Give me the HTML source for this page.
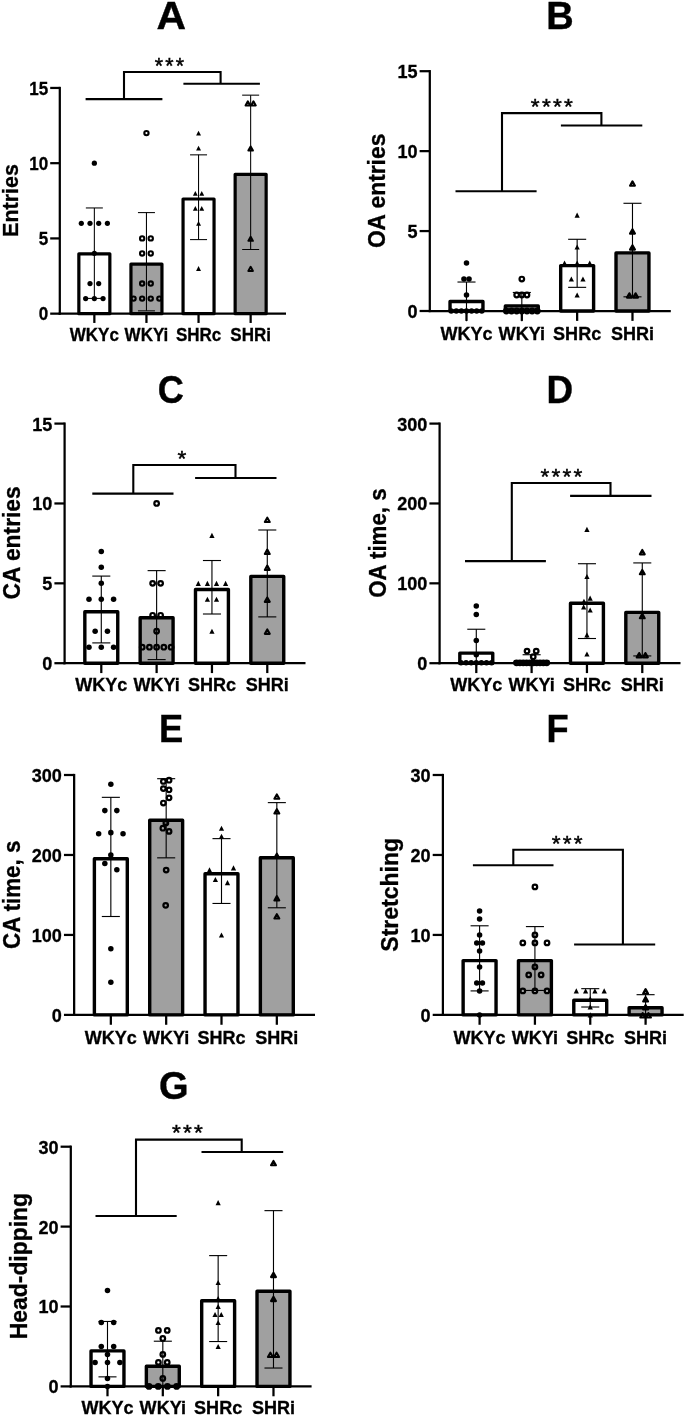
<!DOCTYPE html>
<html lang="en"><head><meta charset="utf-8"><title>Figure</title>
<style>html,body{margin:0;padding:0;background:#fff}svg{display:block}text{font-family:'Liberation Sans', Arial, sans-serif;fill:#000}</style>
</head><body>
<svg width="685" height="1418" viewBox="0 0 685 1418">
<rect width="685" height="1418" fill="#fff"/>
<g>
<text transform="translate(156.6 28.5) scale(1.075 1.04)" font-size="38" font-weight="bold" text-anchor="start" stroke="#000" stroke-width="0.4">A</text>
<rect x="78.85" y="253.8" width="31" height="59.85" fill="#fff" stroke="#000" stroke-width="3.2" stroke-linejoin="round"/>
<rect x="130.95" y="264.1" width="31" height="49.55" fill="#a0a0a0" stroke="#000" stroke-width="3.2" stroke-linejoin="round"/>
<rect x="183.05" y="199" width="31" height="114.65" fill="#fff" stroke="#000" stroke-width="3.2" stroke-linejoin="round"/>
<rect x="235.15" y="174.3" width="31" height="139.35" fill="#a0a0a0" stroke="#000" stroke-width="3.2" stroke-linejoin="round"/>
<line x1="59.8" y1="86.82" x2="59.8" y2="314.77" stroke="#000" stroke-width="2.25" stroke-linecap="butt"/>
<line x1="58.67" y1="313.65" x2="286" y2="313.65" stroke="#000" stroke-width="2.25" stroke-linecap="butt"/>
<line x1="50.2" y1="313.65" x2="59.8" y2="313.65" stroke="#000" stroke-width="2.25" stroke-linecap="butt"/>
<text transform="translate(48.2 320.24) scale(1 1.04)" font-size="17" font-weight="bold" text-anchor="end" stroke="#000" stroke-width="0.3">0</text>
<line x1="50.2" y1="238.42" x2="59.8" y2="238.42" stroke="#000" stroke-width="2.25" stroke-linecap="butt"/>
<text transform="translate(48.2 245) scale(1 1.04)" font-size="17" font-weight="bold" text-anchor="end" stroke="#000" stroke-width="0.3">5</text>
<line x1="50.2" y1="163.18" x2="59.8" y2="163.18" stroke="#000" stroke-width="2.25" stroke-linecap="butt"/>
<text transform="translate(48.2 169.77) scale(1 1.04)" font-size="17" font-weight="bold" text-anchor="end" stroke="#000" stroke-width="0.3">10</text>
<line x1="50.2" y1="87.95" x2="59.8" y2="87.95" stroke="#000" stroke-width="2.25" stroke-linecap="butt"/>
<text transform="translate(48.2 94.54) scale(1 1.04)" font-size="17" font-weight="bold" text-anchor="end" stroke="#000" stroke-width="0.3">15</text>
<line x1="94.35" y1="313.65" x2="94.35" y2="322.95" stroke="#000" stroke-width="2.25" stroke-linecap="butt"/>
<text transform="translate(94.35 340.9) scale(1 1.04)" font-size="17" font-weight="bold" text-anchor="middle" stroke="#000" stroke-width="0.3">WKYc</text>
<line x1="146.45" y1="313.65" x2="146.45" y2="322.95" stroke="#000" stroke-width="2.25" stroke-linecap="butt"/>
<text transform="translate(146.45 340.9) scale(1 1.04)" font-size="17" font-weight="bold" text-anchor="middle" stroke="#000" stroke-width="0.3">WKYi</text>
<line x1="198.55" y1="313.65" x2="198.55" y2="322.95" stroke="#000" stroke-width="2.25" stroke-linecap="butt"/>
<text transform="translate(198.55 340.9) scale(1 1.04)" font-size="17" font-weight="bold" text-anchor="middle" stroke="#000" stroke-width="0.3">SHRc</text>
<line x1="250.65" y1="313.65" x2="250.65" y2="322.95" stroke="#000" stroke-width="2.25" stroke-linecap="butt"/>
<text transform="translate(250.65 340.9) scale(1 1.04)" font-size="17" font-weight="bold" text-anchor="middle" stroke="#000" stroke-width="0.3">SHRi</text>
<text transform="translate(18 200.5) rotate(-90) scale(1 1.04)" font-size="21.5" font-weight="bold" text-anchor="middle" stroke="#000" stroke-width="0.3">Entries</text>
<circle cx="94.35" cy="163.18" r="2.6" fill="#000"/>
<circle cx="81.3" cy="223.37" r="2.6" fill="#000"/>
<circle cx="90" cy="223.37" r="2.6" fill="#000"/>
<circle cx="98.7" cy="223.37" r="2.6" fill="#000"/>
<circle cx="107.4" cy="223.37" r="2.6" fill="#000"/>
<circle cx="94.35" cy="253.46" r="2.6" fill="#000"/>
<circle cx="90" cy="283.56" r="2.6" fill="#000"/>
<circle cx="98.7" cy="283.56" r="2.6" fill="#000"/>
<circle cx="85.65" cy="298.6" r="2.6" fill="#000"/>
<circle cx="94.35" cy="298.6" r="2.6" fill="#000"/>
<circle cx="103.05" cy="298.6" r="2.6" fill="#000"/>
<circle cx="146.45" cy="133.09" r="2.15" fill="none" stroke="#000" stroke-width="2.1"/>
<circle cx="142.15" cy="238.42" r="2.15" fill="none" stroke="#000" stroke-width="2.1"/>
<circle cx="150.75" cy="238.42" r="2.15" fill="none" stroke="#000" stroke-width="2.1"/>
<circle cx="142.15" cy="253.46" r="2.15" fill="none" stroke="#000" stroke-width="2.1"/>
<circle cx="150.75" cy="253.46" r="2.15" fill="none" stroke="#000" stroke-width="2.1"/>
<circle cx="142.15" cy="283.56" r="2.15" fill="none" stroke="#000" stroke-width="2.1"/>
<circle cx="150.75" cy="283.56" r="2.15" fill="none" stroke="#000" stroke-width="2.1"/>
<circle cx="133.55" cy="298.6" r="2.15" fill="none" stroke="#000" stroke-width="2.1"/>
<circle cx="142.15" cy="298.6" r="2.15" fill="none" stroke="#000" stroke-width="2.1"/>
<circle cx="150.75" cy="298.6" r="2.15" fill="none" stroke="#000" stroke-width="2.1"/>
<circle cx="159.35" cy="298.6" r="2.15" fill="none" stroke="#000" stroke-width="2.1"/>
<path d="M198.55 130.69L201 135.49L196.1 135.49Z" fill="#000"/>
<path d="M198.55 145.74L201 150.54L196.1 150.54Z" fill="#000"/>
<path d="M195.35 190.88L197.8 195.68L192.9 195.68Z" fill="#000"/>
<path d="M201.75 190.88L204.2 195.68L199.3 195.68Z" fill="#000"/>
<path d="M195.35 205.92L197.8 210.72L192.9 210.72Z" fill="#000"/>
<path d="M201.75 205.92L204.2 210.72L199.3 210.72Z" fill="#000"/>
<path d="M198.55 220.97L201 225.77L196.1 225.77Z" fill="#000"/>
<path d="M198.55 266.11L201 270.91L196.1 270.91Z" fill="#000"/>
<path d="M247.85 101.35L250.15 105.45L245.55 105.45Z" fill="none" stroke="#000" stroke-width="2" stroke-linejoin="round"/>
<path d="M253.45 101.35L255.75 105.45L251.15 105.45Z" fill="none" stroke="#000" stroke-width="2" stroke-linejoin="round"/>
<path d="M250.65 146.49L252.95 150.59L248.35 150.59Z" fill="none" stroke="#000" stroke-width="2" stroke-linejoin="round"/>
<path d="M250.65 236.77L252.95 240.87L248.35 240.87Z" fill="none" stroke="#000" stroke-width="2" stroke-linejoin="round"/>
<path d="M250.65 266.86L252.95 270.96L248.35 270.96Z" fill="none" stroke="#000" stroke-width="2" stroke-linejoin="round"/>
<line x1="94.35" y1="207.95" x2="94.35" y2="298.4" stroke="#000" stroke-width="1.05" stroke-linecap="butt"/>
<line x1="85.85" y1="207.95" x2="102.85" y2="207.95" stroke="#000" stroke-width="1.05" stroke-linecap="butt"/>
<line x1="85.85" y1="298.4" x2="102.85" y2="298.4" stroke="#000" stroke-width="1.05" stroke-linecap="butt"/>
<line x1="146.45" y1="212.6" x2="146.45" y2="310.85" stroke="#000" stroke-width="1.05" stroke-linecap="butt"/>
<line x1="137.95" y1="212.6" x2="154.95" y2="212.6" stroke="#000" stroke-width="1.05" stroke-linecap="butt"/>
<line x1="137.95" y1="310.85" x2="154.95" y2="310.85" stroke="#000" stroke-width="1.05" stroke-linecap="butt"/>
<line x1="198.55" y1="154.85" x2="198.55" y2="239.6" stroke="#000" stroke-width="1.05" stroke-linecap="butt"/>
<line x1="190.05" y1="154.85" x2="207.05" y2="154.85" stroke="#000" stroke-width="1.05" stroke-linecap="butt"/>
<line x1="190.05" y1="239.6" x2="207.05" y2="239.6" stroke="#000" stroke-width="1.05" stroke-linecap="butt"/>
<line x1="250.65" y1="95.15" x2="250.65" y2="249.5" stroke="#000" stroke-width="1.05" stroke-linecap="butt"/>
<line x1="242.15" y1="95.15" x2="259.15" y2="95.15" stroke="#000" stroke-width="1.05" stroke-linecap="butt"/>
<line x1="242.15" y1="249.5" x2="259.15" y2="249.5" stroke="#000" stroke-width="1.05" stroke-linecap="butt"/>
<line x1="85.6" y1="99.1" x2="162.4" y2="99.1" stroke="#000" stroke-width="2.1" stroke-linecap="butt"/>
<line x1="183.4" y1="83.8" x2="259.9" y2="83.8" stroke="#000" stroke-width="2.1" stroke-linecap="butt"/>
<path d="M124 99.1V72H220.6V83.8" fill="none" stroke="#000" stroke-width="2.1" stroke-linejoin="miter"/>
<text transform="translate(170.45 72.68)" font-size="21.3" font-weight="normal" text-anchor="middle" stroke="#000" stroke-width="0.45" letter-spacing="2.1">***</text>
</g>
<g>
<text transform="translate(546.3 28.6) scale(1 1.04)" font-size="38" font-weight="bold" text-anchor="start" stroke="#000" stroke-width="0.4">B</text>
<rect x="450.03" y="301.5" width="32.92" height="9.5" fill="#fff" stroke="#000" stroke-width="3.4" stroke-linejoin="round"/>
<rect x="505.36" y="305.9" width="32.92" height="5.1" fill="#a0a0a0" stroke="#000" stroke-width="3.4" stroke-linejoin="round"/>
<rect x="560.69" y="265.6" width="32.92" height="45.4" fill="#fff" stroke="#000" stroke-width="3.4" stroke-linejoin="round"/>
<rect x="616.02" y="252.9" width="32.92" height="58.1" fill="#a0a0a0" stroke="#000" stroke-width="3.4" stroke-linejoin="round"/>
<line x1="429.8" y1="70.07" x2="429.8" y2="312.12" stroke="#000" stroke-width="2.25" stroke-linecap="butt"/>
<line x1="428.68" y1="311" x2="670.8" y2="311" stroke="#000" stroke-width="2.25" stroke-linecap="butt"/>
<line x1="419.6" y1="311" x2="429.8" y2="311" stroke="#000" stroke-width="2.25" stroke-linecap="butt"/>
<text transform="translate(417.48 317.96) scale(1 1.04)" font-size="18.05" font-weight="bold" text-anchor="end" stroke="#000" stroke-width="0.3">0</text>
<line x1="419.6" y1="231.07" x2="429.8" y2="231.07" stroke="#000" stroke-width="2.25" stroke-linecap="butt"/>
<text transform="translate(417.48 238.03) scale(1 1.04)" font-size="18.05" font-weight="bold" text-anchor="end" stroke="#000" stroke-width="0.3">5</text>
<line x1="419.6" y1="151.13" x2="429.8" y2="151.13" stroke="#000" stroke-width="2.25" stroke-linecap="butt"/>
<text transform="translate(417.48 158.1) scale(1 1.04)" font-size="18.05" font-weight="bold" text-anchor="end" stroke="#000" stroke-width="0.3">10</text>
<line x1="419.6" y1="71.2" x2="429.8" y2="71.2" stroke="#000" stroke-width="2.25" stroke-linecap="butt"/>
<text transform="translate(417.48 78.16) scale(1 1.04)" font-size="18.05" font-weight="bold" text-anchor="end" stroke="#000" stroke-width="0.3">15</text>
<line x1="466.49" y1="311" x2="466.49" y2="320.88" stroke="#000" stroke-width="2.25" stroke-linecap="butt"/>
<text transform="translate(466.49 339.8) scale(1 1.04)" font-size="18.05" font-weight="bold" text-anchor="middle" stroke="#000" stroke-width="0.3">WKYc</text>
<line x1="521.82" y1="311" x2="521.82" y2="320.88" stroke="#000" stroke-width="2.25" stroke-linecap="butt"/>
<text transform="translate(521.82 339.8) scale(1 1.04)" font-size="18.05" font-weight="bold" text-anchor="middle" stroke="#000" stroke-width="0.3">WKYi</text>
<line x1="577.15" y1="311" x2="577.15" y2="320.88" stroke="#000" stroke-width="2.25" stroke-linecap="butt"/>
<text transform="translate(577.15 339.8) scale(1 1.04)" font-size="18.05" font-weight="bold" text-anchor="middle" stroke="#000" stroke-width="0.3">SHRc</text>
<line x1="632.48" y1="311" x2="632.48" y2="320.88" stroke="#000" stroke-width="2.25" stroke-linecap="butt"/>
<text transform="translate(632.48 339.8) scale(1 1.04)" font-size="18.05" font-weight="bold" text-anchor="middle" stroke="#000" stroke-width="0.3">SHRi</text>
<text transform="translate(385.2 190.9) rotate(-90) scale(1 1.04)" font-size="22.8" font-weight="bold" text-anchor="middle" stroke="#000" stroke-width="0.3">OA entries</text>
<circle cx="466.49" cy="263.04" r="2.76" fill="#000"/>
<circle cx="463.94" cy="279.03" r="2.76" fill="#000"/>
<circle cx="469.04" cy="279.03" r="2.76" fill="#000"/>
<circle cx="466.49" cy="295.01" r="2.76" fill="#000"/>
<circle cx="451.19" cy="311" r="2.76" fill="#000"/>
<circle cx="456.29" cy="311" r="2.76" fill="#000"/>
<circle cx="461.39" cy="311" r="2.76" fill="#000"/>
<circle cx="466.49" cy="311" r="2.76" fill="#000"/>
<circle cx="471.59" cy="311" r="2.76" fill="#000"/>
<circle cx="476.69" cy="311" r="2.76" fill="#000"/>
<circle cx="481.79" cy="311" r="2.76" fill="#000"/>
<circle cx="521.82" cy="279.03" r="2.28" fill="none" stroke="#000" stroke-width="2.23"/>
<circle cx="516.67" cy="295.01" r="2.28" fill="none" stroke="#000" stroke-width="2.23"/>
<circle cx="521.82" cy="295.01" r="2.28" fill="none" stroke="#000" stroke-width="2.23"/>
<circle cx="526.97" cy="295.01" r="2.28" fill="none" stroke="#000" stroke-width="2.23"/>
<circle cx="506.37" cy="311" r="2.28" fill="none" stroke="#000" stroke-width="2.23"/>
<circle cx="511.52" cy="311" r="2.28" fill="none" stroke="#000" stroke-width="2.23"/>
<circle cx="516.67" cy="311" r="2.28" fill="none" stroke="#000" stroke-width="2.23"/>
<circle cx="521.82" cy="311" r="2.28" fill="none" stroke="#000" stroke-width="2.23"/>
<circle cx="526.97" cy="311" r="2.28" fill="none" stroke="#000" stroke-width="2.23"/>
<circle cx="532.12" cy="311" r="2.28" fill="none" stroke="#000" stroke-width="2.23"/>
<circle cx="537.27" cy="311" r="2.28" fill="none" stroke="#000" stroke-width="2.23"/>
<path d="M577.15 212.53L579.75 217.63L574.55 217.63Z" fill="#000"/>
<path d="M577.15 244.5L579.75 249.6L574.55 249.6Z" fill="#000"/>
<path d="M577.15 260.49L579.75 265.59L574.55 265.59Z" fill="#000"/>
<path d="M564.55 260.49L567.15 265.59L561.95 265.59Z" fill="#000"/>
<path d="M589.75 260.49L592.35 265.59L587.15 265.59Z" fill="#000"/>
<path d="M571.35 276.48L573.95 281.58L568.75 281.58Z" fill="#000"/>
<path d="M582.95 276.48L585.55 281.58L580.35 281.58Z" fill="#000"/>
<path d="M577.15 292.46L579.75 297.56L574.55 297.56Z" fill="#000"/>
<path d="M632.48 181.33L634.93 185.68L630.04 185.68Z" fill="none" stroke="#000" stroke-width="2.12" stroke-linejoin="round"/>
<path d="M632.48 229.29L634.93 233.64L630.04 233.64Z" fill="none" stroke="#000" stroke-width="2.12" stroke-linejoin="round"/>
<path d="M632.48 245.28L634.93 249.63L630.04 249.63Z" fill="none" stroke="#000" stroke-width="2.12" stroke-linejoin="round"/>
<path d="M629.38 293.24L631.83 297.59L626.94 297.59Z" fill="none" stroke="#000" stroke-width="2.12" stroke-linejoin="round"/>
<path d="M635.58 293.24L638.03 297.59L633.14 297.59Z" fill="none" stroke="#000" stroke-width="2.12" stroke-linejoin="round"/>
<line x1="466.49" y1="282.03" x2="466.49" y2="321.2" stroke="#000" stroke-width="1.12" stroke-linecap="butt"/>
<line x1="457.47" y1="282.03" x2="475.52" y2="282.03" stroke="#000" stroke-width="1.12" stroke-linecap="butt"/>
<line x1="521.82" y1="292.48" x2="521.82" y2="321.2" stroke="#000" stroke-width="1.12" stroke-linecap="butt"/>
<line x1="512.8" y1="292.48" x2="530.85" y2="292.48" stroke="#000" stroke-width="1.12" stroke-linecap="butt"/>
<line x1="577.15" y1="239.29" x2="577.15" y2="287.34" stroke="#000" stroke-width="1.12" stroke-linecap="butt"/>
<line x1="568.13" y1="239.29" x2="586.18" y2="239.29" stroke="#000" stroke-width="1.12" stroke-linecap="butt"/>
<line x1="568.13" y1="287.34" x2="586.18" y2="287.34" stroke="#000" stroke-width="1.12" stroke-linecap="butt"/>
<line x1="632.48" y1="203.29" x2="632.48" y2="296.82" stroke="#000" stroke-width="1.12" stroke-linecap="butt"/>
<line x1="623.46" y1="203.29" x2="641.51" y2="203.29" stroke="#000" stroke-width="1.12" stroke-linecap="butt"/>
<line x1="623.46" y1="296.82" x2="641.51" y2="296.82" stroke="#000" stroke-width="1.12" stroke-linecap="butt"/>
<line x1="455.5" y1="191.3" x2="536.6" y2="191.3" stroke="#000" stroke-width="2.1" stroke-linecap="butt"/>
<line x1="560.9" y1="125.5" x2="642.3" y2="125.5" stroke="#000" stroke-width="2.1" stroke-linecap="butt"/>
<path d="M502 191.3V113.1H601.4V125.5" fill="none" stroke="#000" stroke-width="2.1" stroke-linejoin="miter"/>
<text transform="translate(552.92 113.62)" font-size="22.62" font-weight="normal" text-anchor="middle" stroke="#000" stroke-width="0.45" letter-spacing="2.23">****</text>
</g>
<g>
<text transform="translate(157.8 403) scale(0.95 1.04)" font-size="38" font-weight="bold" text-anchor="start" stroke="#000" stroke-width="0.4">C</text>
<rect x="84.83" y="611.8" width="32.92" height="51.4" fill="#fff" stroke="#000" stroke-width="3.4" stroke-linejoin="round"/>
<rect x="140.16" y="617.8" width="32.92" height="45.4" fill="#a0a0a0" stroke="#000" stroke-width="3.4" stroke-linejoin="round"/>
<rect x="195.49" y="589.5" width="32.92" height="73.7" fill="#fff" stroke="#000" stroke-width="3.4" stroke-linejoin="round"/>
<rect x="250.82" y="576.4" width="32.92" height="86.8" fill="#a0a0a0" stroke="#000" stroke-width="3.4" stroke-linejoin="round"/>
<line x1="64.6" y1="422.48" x2="64.6" y2="664.33" stroke="#000" stroke-width="2.25" stroke-linecap="butt"/>
<line x1="63.47" y1="663.2" x2="305.5" y2="663.2" stroke="#000" stroke-width="2.25" stroke-linecap="butt"/>
<line x1="54.4" y1="663.2" x2="64.6" y2="663.2" stroke="#000" stroke-width="2.25" stroke-linecap="butt"/>
<text transform="translate(52.28 670.16) scale(1 1.04)" font-size="18.05" font-weight="bold" text-anchor="end" stroke="#000" stroke-width="0.3">0</text>
<line x1="54.4" y1="583.33" x2="64.6" y2="583.33" stroke="#000" stroke-width="2.25" stroke-linecap="butt"/>
<text transform="translate(52.28 590.3) scale(1 1.04)" font-size="18.05" font-weight="bold" text-anchor="end" stroke="#000" stroke-width="0.3">5</text>
<line x1="54.4" y1="503.47" x2="64.6" y2="503.47" stroke="#000" stroke-width="2.25" stroke-linecap="butt"/>
<text transform="translate(52.28 510.43) scale(1 1.04)" font-size="18.05" font-weight="bold" text-anchor="end" stroke="#000" stroke-width="0.3">10</text>
<line x1="54.4" y1="423.6" x2="64.6" y2="423.6" stroke="#000" stroke-width="2.25" stroke-linecap="butt"/>
<text transform="translate(52.28 430.56) scale(1 1.04)" font-size="18.05" font-weight="bold" text-anchor="end" stroke="#000" stroke-width="0.3">15</text>
<line x1="101.29" y1="663.2" x2="101.29" y2="673.08" stroke="#000" stroke-width="2.25" stroke-linecap="butt"/>
<text transform="translate(101.29 691.3) scale(1 1.04)" font-size="18.05" font-weight="bold" text-anchor="middle" stroke="#000" stroke-width="0.3">WKYc</text>
<line x1="156.62" y1="663.2" x2="156.62" y2="673.08" stroke="#000" stroke-width="2.25" stroke-linecap="butt"/>
<text transform="translate(156.62 691.3) scale(1 1.04)" font-size="18.05" font-weight="bold" text-anchor="middle" stroke="#000" stroke-width="0.3">WKYi</text>
<line x1="211.95" y1="663.2" x2="211.95" y2="673.08" stroke="#000" stroke-width="2.25" stroke-linecap="butt"/>
<text transform="translate(211.95 691.3) scale(1 1.04)" font-size="18.05" font-weight="bold" text-anchor="middle" stroke="#000" stroke-width="0.3">SHRc</text>
<line x1="267.28" y1="663.2" x2="267.28" y2="673.08" stroke="#000" stroke-width="2.25" stroke-linecap="butt"/>
<text transform="translate(267.28 691.3) scale(1 1.04)" font-size="18.05" font-weight="bold" text-anchor="middle" stroke="#000" stroke-width="0.3">SHRi</text>
<text transform="translate(19.6 542.9) rotate(-90) scale(1 1.04)" font-size="22.8" font-weight="bold" text-anchor="middle" stroke="#000" stroke-width="0.3">CA entries</text>
<circle cx="101.29" cy="551.39" r="2.76" fill="#000"/>
<circle cx="101.29" cy="567.36" r="2.76" fill="#000"/>
<circle cx="101.29" cy="583.33" r="2.76" fill="#000"/>
<circle cx="88.99" cy="599.31" r="2.76" fill="#000"/>
<circle cx="101.29" cy="599.31" r="2.76" fill="#000"/>
<circle cx="113.59" cy="599.31" r="2.76" fill="#000"/>
<circle cx="95.14" cy="631.25" r="2.76" fill="#000"/>
<circle cx="107.44" cy="631.25" r="2.76" fill="#000"/>
<circle cx="88.99" cy="647.23" r="2.76" fill="#000"/>
<circle cx="101.29" cy="647.23" r="2.76" fill="#000"/>
<circle cx="113.59" cy="647.23" r="2.76" fill="#000"/>
<circle cx="156.62" cy="503.47" r="2.28" fill="none" stroke="#000" stroke-width="2.23"/>
<circle cx="152.62" cy="583.33" r="2.28" fill="none" stroke="#000" stroke-width="2.23"/>
<circle cx="160.62" cy="583.33" r="2.28" fill="none" stroke="#000" stroke-width="2.23"/>
<circle cx="152.62" cy="615.28" r="2.28" fill="none" stroke="#000" stroke-width="2.23"/>
<circle cx="160.62" cy="615.28" r="2.28" fill="none" stroke="#000" stroke-width="2.23"/>
<circle cx="156.62" cy="631.25" r="2.28" fill="none" stroke="#000" stroke-width="2.23"/>
<circle cx="142.22" cy="647.23" r="2.28" fill="none" stroke="#000" stroke-width="2.23"/>
<circle cx="149.42" cy="647.23" r="2.28" fill="none" stroke="#000" stroke-width="2.23"/>
<circle cx="156.62" cy="647.23" r="2.28" fill="none" stroke="#000" stroke-width="2.23"/>
<circle cx="163.82" cy="647.23" r="2.28" fill="none" stroke="#000" stroke-width="2.23"/>
<circle cx="171.02" cy="647.23" r="2.28" fill="none" stroke="#000" stroke-width="2.23"/>
<path d="M211.95 532.86L214.55 537.96L209.35 537.96Z" fill="#000"/>
<path d="M198.3 580.78L200.9 585.88L195.7 585.88Z" fill="#000"/>
<path d="M207.4 580.78L210 585.88L204.8 585.88Z" fill="#000"/>
<path d="M216.5 580.78L219.1 585.88L213.9 585.88Z" fill="#000"/>
<path d="M225.6 580.78L228.2 585.88L223 585.88Z" fill="#000"/>
<path d="M207.4 596.76L210 601.86L204.8 601.86Z" fill="#000"/>
<path d="M216.5 596.76L219.1 601.86L213.9 601.86Z" fill="#000"/>
<path d="M211.95 628.7L214.55 633.8L209.35 633.8Z" fill="#000"/>
<path d="M267.28 517.66L269.73 522.02L264.84 522.02Z" fill="none" stroke="#000" stroke-width="2.12" stroke-linejoin="round"/>
<path d="M267.28 549.61L269.73 553.96L264.84 553.96Z" fill="none" stroke="#000" stroke-width="2.12" stroke-linejoin="round"/>
<path d="M267.28 565.58L269.73 569.94L264.84 569.94Z" fill="none" stroke="#000" stroke-width="2.12" stroke-linejoin="round"/>
<path d="M267.28 597.53L269.73 601.88L264.84 601.88Z" fill="none" stroke="#000" stroke-width="2.12" stroke-linejoin="round"/>
<path d="M267.28 629.48L269.73 633.83L264.84 633.83Z" fill="none" stroke="#000" stroke-width="2.12" stroke-linejoin="round"/>
<line x1="101.29" y1="576.09" x2="101.29" y2="642.9" stroke="#000" stroke-width="1.12" stroke-linecap="butt"/>
<line x1="92.27" y1="576.09" x2="110.32" y2="576.09" stroke="#000" stroke-width="1.12" stroke-linecap="butt"/>
<line x1="92.27" y1="642.9" x2="110.32" y2="642.9" stroke="#000" stroke-width="1.12" stroke-linecap="butt"/>
<line x1="156.62" y1="570.63" x2="156.62" y2="659.61" stroke="#000" stroke-width="1.12" stroke-linecap="butt"/>
<line x1="147.6" y1="570.63" x2="165.65" y2="570.63" stroke="#000" stroke-width="1.12" stroke-linecap="butt"/>
<line x1="147.6" y1="659.61" x2="165.65" y2="659.61" stroke="#000" stroke-width="1.12" stroke-linecap="butt"/>
<line x1="211.95" y1="560.52" x2="211.95" y2="614" stroke="#000" stroke-width="1.12" stroke-linecap="butt"/>
<line x1="202.93" y1="560.52" x2="220.98" y2="560.52" stroke="#000" stroke-width="1.12" stroke-linecap="butt"/>
<line x1="202.93" y1="614" x2="220.98" y2="614" stroke="#000" stroke-width="1.12" stroke-linecap="butt"/>
<line x1="267.28" y1="530" x2="267.28" y2="616.89" stroke="#000" stroke-width="1.12" stroke-linecap="butt"/>
<line x1="258.26" y1="530" x2="276.31" y2="530" stroke="#000" stroke-width="1.12" stroke-linecap="butt"/>
<line x1="258.26" y1="616.89" x2="276.31" y2="616.89" stroke="#000" stroke-width="1.12" stroke-linecap="butt"/>
<line x1="92.3" y1="493.6" x2="173.5" y2="493.6" stroke="#000" stroke-width="2.1" stroke-linecap="butt"/>
<line x1="195.1" y1="478" x2="276.5" y2="478" stroke="#000" stroke-width="2.1" stroke-linecap="butt"/>
<path d="M133.3 493.6V465H235.5V478" fill="none" stroke="#000" stroke-width="2.1" stroke-linejoin="miter"/>
<text transform="translate(182.92 465.92)" font-size="22.62" font-weight="normal" text-anchor="middle" stroke="#000" stroke-width="0.45" letter-spacing="2.23">*</text>
</g>
<g>
<text transform="translate(546.4 402.5) scale(0.97 1.04)" font-size="38" font-weight="bold" text-anchor="start" stroke="#000" stroke-width="0.4">D</text>
<rect x="459.83" y="653.1" width="32.92" height="10.1" fill="#fff" stroke="#000" stroke-width="3.4" stroke-linejoin="round"/>
<rect x="515.16" y="661.7" width="32.92" height="1.5" fill="#a0a0a0" stroke="#000" stroke-width="3.4" stroke-linejoin="round"/>
<rect x="570.49" y="603.2" width="32.92" height="60" fill="#fff" stroke="#000" stroke-width="3.4" stroke-linejoin="round"/>
<rect x="625.82" y="612.4" width="32.92" height="50.8" fill="#a0a0a0" stroke="#000" stroke-width="3.4" stroke-linejoin="round"/>
<line x1="439.6" y1="422.48" x2="439.6" y2="664.33" stroke="#000" stroke-width="2.25" stroke-linecap="butt"/>
<line x1="438.48" y1="663.2" x2="680.5" y2="663.2" stroke="#000" stroke-width="2.25" stroke-linecap="butt"/>
<line x1="429.4" y1="663.2" x2="439.6" y2="663.2" stroke="#000" stroke-width="2.25" stroke-linecap="butt"/>
<text transform="translate(427.28 670.16) scale(1 1.04)" font-size="18.05" font-weight="bold" text-anchor="end" stroke="#000" stroke-width="0.3">0</text>
<line x1="429.4" y1="583.33" x2="439.6" y2="583.33" stroke="#000" stroke-width="2.25" stroke-linecap="butt"/>
<text transform="translate(427.28 590.3) scale(1 1.04)" font-size="18.05" font-weight="bold" text-anchor="end" stroke="#000" stroke-width="0.3">100</text>
<line x1="429.4" y1="503.47" x2="439.6" y2="503.47" stroke="#000" stroke-width="2.25" stroke-linecap="butt"/>
<text transform="translate(427.28 510.43) scale(1 1.04)" font-size="18.05" font-weight="bold" text-anchor="end" stroke="#000" stroke-width="0.3">200</text>
<line x1="429.4" y1="423.6" x2="439.6" y2="423.6" stroke="#000" stroke-width="2.25" stroke-linecap="butt"/>
<text transform="translate(427.28 430.56) scale(1 1.04)" font-size="18.05" font-weight="bold" text-anchor="end" stroke="#000" stroke-width="0.3">300</text>
<line x1="476.29" y1="663.2" x2="476.29" y2="673.08" stroke="#000" stroke-width="2.25" stroke-linecap="butt"/>
<text transform="translate(476.29 691.4) scale(1 1.04)" font-size="18.05" font-weight="bold" text-anchor="middle" stroke="#000" stroke-width="0.3">WKYc</text>
<line x1="531.62" y1="663.2" x2="531.62" y2="673.08" stroke="#000" stroke-width="2.25" stroke-linecap="butt"/>
<text transform="translate(531.62 691.4) scale(1 1.04)" font-size="18.05" font-weight="bold" text-anchor="middle" stroke="#000" stroke-width="0.3">WKYi</text>
<line x1="586.95" y1="663.2" x2="586.95" y2="673.08" stroke="#000" stroke-width="2.25" stroke-linecap="butt"/>
<text transform="translate(586.95 691.4) scale(1 1.04)" font-size="18.05" font-weight="bold" text-anchor="middle" stroke="#000" stroke-width="0.3">SHRc</text>
<line x1="642.28" y1="663.2" x2="642.28" y2="673.08" stroke="#000" stroke-width="2.25" stroke-linecap="butt"/>
<text transform="translate(642.28 691.4) scale(1 1.04)" font-size="18.05" font-weight="bold" text-anchor="middle" stroke="#000" stroke-width="0.3">SHRi</text>
<text transform="translate(385.6 543.1) rotate(-90) scale(1 1.04)" font-size="22.3" font-weight="bold" text-anchor="middle" stroke="#000" stroke-width="0.3">OA time, s</text>
<circle cx="476.29" cy="606.07" r="2.76" fill="#000"/>
<circle cx="476.29" cy="614.46" r="2.76" fill="#000"/>
<circle cx="476.29" cy="640.43" r="2.76" fill="#000"/>
<circle cx="476.29" cy="654.81" r="2.76" fill="#000"/>
<circle cx="460.99" cy="662.8" r="2.76" fill="#000"/>
<circle cx="466.09" cy="662.8" r="2.76" fill="#000"/>
<circle cx="471.19" cy="662.8" r="2.76" fill="#000"/>
<circle cx="476.29" cy="662.8" r="2.76" fill="#000"/>
<circle cx="481.39" cy="662.8" r="2.76" fill="#000"/>
<circle cx="486.49" cy="662.8" r="2.76" fill="#000"/>
<circle cx="491.59" cy="662.8" r="2.76" fill="#000"/>
<circle cx="527.02" cy="651.05" r="2.28" fill="none" stroke="#000" stroke-width="2.23"/>
<circle cx="536.22" cy="651.05" r="2.28" fill="none" stroke="#000" stroke-width="2.23"/>
<circle cx="533.22" cy="656.73" r="2.28" fill="none" stroke="#000" stroke-width="2.23"/>
<circle cx="516.55" cy="662.8" r="2.28" fill="none" stroke="#000" stroke-width="2.23"/>
<circle cx="519.9" cy="662.8" r="2.28" fill="none" stroke="#000" stroke-width="2.23"/>
<circle cx="523.25" cy="662.8" r="2.28" fill="none" stroke="#000" stroke-width="2.23"/>
<circle cx="526.6" cy="662.8" r="2.28" fill="none" stroke="#000" stroke-width="2.23"/>
<circle cx="529.95" cy="662.8" r="2.28" fill="none" stroke="#000" stroke-width="2.23"/>
<circle cx="533.3" cy="662.8" r="2.28" fill="none" stroke="#000" stroke-width="2.23"/>
<circle cx="536.65" cy="662.8" r="2.28" fill="none" stroke="#000" stroke-width="2.23"/>
<circle cx="540" cy="662.8" r="2.28" fill="none" stroke="#000" stroke-width="2.23"/>
<circle cx="543.35" cy="662.8" r="2.28" fill="none" stroke="#000" stroke-width="2.23"/>
<circle cx="546.7" cy="662.8" r="2.28" fill="none" stroke="#000" stroke-width="2.23"/>
<path d="M586.95 526.82L589.55 531.92L584.35 531.92Z" fill="#000"/>
<path d="M586.95 573.96L589.55 579.06L584.35 579.06Z" fill="#000"/>
<path d="M590.15 595.53L592.75 600.63L587.55 600.63Z" fill="#000"/>
<path d="M583.95 598.73L586.55 603.83L581.35 603.83Z" fill="#000"/>
<path d="M583.65 604.32L586.25 609.42L581.05 609.42Z" fill="#000"/>
<path d="M590.15 607.52L592.75 612.61L587.55 612.61Z" fill="#000"/>
<path d="M586.95 632.29L589.55 637.38L584.35 637.38Z" fill="#000"/>
<path d="M586.95 651.46L589.55 656.56L584.35 656.56Z" fill="#000"/>
<path d="M642.28 549.96L644.73 554.32L639.84 554.32Z" fill="none" stroke="#000" stroke-width="2.12" stroke-linejoin="round"/>
<path d="M642.28 569.94L644.73 574.29L639.84 574.29Z" fill="none" stroke="#000" stroke-width="2.12" stroke-linejoin="round"/>
<path d="M642.28 613.88L644.73 618.24L639.84 618.24Z" fill="none" stroke="#000" stroke-width="2.12" stroke-linejoin="round"/>
<path d="M639.18 653.03L641.63 657.39L636.74 657.39Z" fill="none" stroke="#000" stroke-width="2.12" stroke-linejoin="round"/>
<path d="M645.38 653.03L647.83 657.39L642.94 657.39Z" fill="none" stroke="#000" stroke-width="2.12" stroke-linejoin="round"/>
<line x1="476.29" y1="629.24" x2="476.29" y2="664" stroke="#000" stroke-width="1.12" stroke-linecap="butt"/>
<line x1="467.27" y1="629.24" x2="485.32" y2="629.24" stroke="#000" stroke-width="1.12" stroke-linecap="butt"/>
<line x1="531.62" y1="654.73" x2="531.62" y2="664" stroke="#000" stroke-width="1.12" stroke-linecap="butt"/>
<line x1="522.6" y1="654.73" x2="540.65" y2="654.73" stroke="#000" stroke-width="1.12" stroke-linecap="butt"/>
<line x1="586.95" y1="563.72" x2="586.95" y2="638.51" stroke="#000" stroke-width="1.12" stroke-linecap="butt"/>
<line x1="577.93" y1="563.72" x2="595.98" y2="563.72" stroke="#000" stroke-width="1.12" stroke-linecap="butt"/>
<line x1="577.93" y1="638.51" x2="595.98" y2="638.51" stroke="#000" stroke-width="1.12" stroke-linecap="butt"/>
<line x1="642.28" y1="562.92" x2="642.28" y2="655.93" stroke="#000" stroke-width="1.12" stroke-linecap="butt"/>
<line x1="633.26" y1="562.92" x2="651.31" y2="562.92" stroke="#000" stroke-width="1.12" stroke-linecap="butt"/>
<line x1="633.26" y1="655.93" x2="651.31" y2="655.93" stroke="#000" stroke-width="1.12" stroke-linecap="butt"/>
<line x1="465" y1="561.1" x2="545.9" y2="561.1" stroke="#000" stroke-width="2.1" stroke-linecap="butt"/>
<line x1="570.1" y1="495.9" x2="651.5" y2="495.9" stroke="#000" stroke-width="2.1" stroke-linecap="butt"/>
<path d="M511.8 561.1V483H610.5V495.9" fill="none" stroke="#000" stroke-width="2.1" stroke-linejoin="miter"/>
<text transform="translate(562.52 484.12)" font-size="22.62" font-weight="normal" text-anchor="middle" stroke="#000" stroke-width="0.45" letter-spacing="2.23">****</text>
</g>
<g>
<text transform="translate(159.05 742.1) scale(0.955 1.04)" font-size="38" font-weight="bold" text-anchor="start" stroke="#000" stroke-width="0.4">E</text>
<rect x="94.38" y="858.7" width="32.92" height="156.2" fill="#fff" stroke="#000" stroke-width="3.4" stroke-linejoin="round"/>
<rect x="149.71" y="820.2" width="32.92" height="194.7" fill="#a0a0a0" stroke="#000" stroke-width="3.4" stroke-linejoin="round"/>
<rect x="205.04" y="873.8" width="32.92" height="141.1" fill="#fff" stroke="#000" stroke-width="3.4" stroke-linejoin="round"/>
<rect x="260.37" y="857.7" width="32.92" height="157.2" fill="#a0a0a0" stroke="#000" stroke-width="3.4" stroke-linejoin="round"/>
<line x1="74.15" y1="773.88" x2="74.15" y2="1016.02" stroke="#000" stroke-width="2.25" stroke-linecap="butt"/>
<line x1="73.03" y1="1014.9" x2="315" y2="1014.9" stroke="#000" stroke-width="2.25" stroke-linecap="butt"/>
<line x1="63.95" y1="1014.9" x2="74.15" y2="1014.9" stroke="#000" stroke-width="2.25" stroke-linecap="butt"/>
<text transform="translate(61.83 1021.86) scale(1 1.04)" font-size="18.05" font-weight="bold" text-anchor="end" stroke="#000" stroke-width="0.3">0</text>
<line x1="63.95" y1="934.93" x2="74.15" y2="934.93" stroke="#000" stroke-width="2.25" stroke-linecap="butt"/>
<text transform="translate(61.83 941.9) scale(1 1.04)" font-size="18.05" font-weight="bold" text-anchor="end" stroke="#000" stroke-width="0.3">100</text>
<line x1="63.95" y1="854.97" x2="74.15" y2="854.97" stroke="#000" stroke-width="2.25" stroke-linecap="butt"/>
<text transform="translate(61.83 861.93) scale(1 1.04)" font-size="18.05" font-weight="bold" text-anchor="end" stroke="#000" stroke-width="0.3">200</text>
<line x1="63.95" y1="775" x2="74.15" y2="775" stroke="#000" stroke-width="2.25" stroke-linecap="butt"/>
<text transform="translate(61.83 781.96) scale(1 1.04)" font-size="18.05" font-weight="bold" text-anchor="end" stroke="#000" stroke-width="0.3">300</text>
<line x1="110.84" y1="1014.9" x2="110.84" y2="1024.78" stroke="#000" stroke-width="2.25" stroke-linecap="butt"/>
<text transform="translate(110.84 1043.8) scale(1 1.04)" font-size="18.05" font-weight="bold" text-anchor="middle" stroke="#000" stroke-width="0.3">WKYc</text>
<line x1="166.17" y1="1014.9" x2="166.17" y2="1024.78" stroke="#000" stroke-width="2.25" stroke-linecap="butt"/>
<text transform="translate(166.17 1043.8) scale(1 1.04)" font-size="18.05" font-weight="bold" text-anchor="middle" stroke="#000" stroke-width="0.3">WKYi</text>
<line x1="221.5" y1="1014.9" x2="221.5" y2="1024.78" stroke="#000" stroke-width="2.25" stroke-linecap="butt"/>
<text transform="translate(221.5 1043.8) scale(1 1.04)" font-size="18.05" font-weight="bold" text-anchor="middle" stroke="#000" stroke-width="0.3">SHRc</text>
<line x1="276.83" y1="1014.9" x2="276.83" y2="1024.78" stroke="#000" stroke-width="2.25" stroke-linecap="butt"/>
<text transform="translate(276.83 1043.8) scale(1 1.04)" font-size="18.05" font-weight="bold" text-anchor="middle" stroke="#000" stroke-width="0.3">SHRi</text>
<text transform="translate(19.6 894.8) rotate(-90) scale(1 1.04)" font-size="22.3" font-weight="bold" text-anchor="middle" stroke="#000" stroke-width="0.3">CA time, s</text>
<circle cx="110.84" cy="784.21" r="2.76" fill="#000"/>
<circle cx="104.84" cy="810.62" r="2.76" fill="#000"/>
<circle cx="116.84" cy="810.62" r="2.76" fill="#000"/>
<circle cx="98.64" cy="833.83" r="2.76" fill="#000"/>
<circle cx="110.84" cy="832.63" r="2.76" fill="#000"/>
<circle cx="123.04" cy="833.83" r="2.76" fill="#000"/>
<circle cx="110.84" cy="855.04" r="2.76" fill="#000"/>
<circle cx="104.84" cy="863.44" r="2.76" fill="#000"/>
<circle cx="116.84" cy="869.85" r="2.76" fill="#000"/>
<circle cx="110.84" cy="948.68" r="2.76" fill="#000"/>
<circle cx="110.84" cy="982.21" r="2.76" fill="#000"/>
<circle cx="163.37" cy="781.41" r="2.28" fill="none" stroke="#000" stroke-width="2.23"/>
<circle cx="169.07" cy="780.21" r="2.28" fill="none" stroke="#000" stroke-width="2.23"/>
<circle cx="163.37" cy="788.62" r="2.28" fill="none" stroke="#000" stroke-width="2.23"/>
<circle cx="169.07" cy="789.82" r="2.28" fill="none" stroke="#000" stroke-width="2.23"/>
<circle cx="169.07" cy="797.82" r="2.28" fill="none" stroke="#000" stroke-width="2.23"/>
<circle cx="163.37" cy="803.02" r="2.28" fill="none" stroke="#000" stroke-width="2.23"/>
<circle cx="165.87" cy="822.95" r="2.28" fill="none" stroke="#000" stroke-width="2.23"/>
<circle cx="162.87" cy="828.23" r="2.28" fill="none" stroke="#000" stroke-width="2.23"/>
<circle cx="169.07" cy="831.43" r="2.28" fill="none" stroke="#000" stroke-width="2.23"/>
<circle cx="166.17" cy="870.09" r="2.28" fill="none" stroke="#000" stroke-width="2.23"/>
<circle cx="165.67" cy="905.3" r="2.28" fill="none" stroke="#000" stroke-width="2.23"/>
<path d="M221.5 825.68L224.1 830.78L218.9 830.78Z" fill="#000"/>
<path d="M221.5 833.68L224.1 838.78L218.9 838.78Z" fill="#000"/>
<path d="M209.5 867.3L212.1 872.39L206.9 872.39Z" fill="#000"/>
<path d="M233.5 865.3L236.1 870.39L230.9 870.39Z" fill="#000"/>
<path d="M215.4 876.9L218 882L212.8 882Z" fill="#000"/>
<path d="M227.5 880.1L230.1 885.2L224.9 885.2Z" fill="#000"/>
<path d="M221.5 932.52L224.1 937.62L218.9 937.62Z" fill="#000"/>
<path d="M276.83 794.44L279.28 798.8L274.39 798.8Z" fill="none" stroke="#000" stroke-width="2.12" stroke-linejoin="round"/>
<path d="M276.83 809.17L279.28 813.52L274.39 813.52Z" fill="none" stroke="#000" stroke-width="2.12" stroke-linejoin="round"/>
<path d="M276.83 853.66L279.28 858.02L274.39 858.02Z" fill="none" stroke="#000" stroke-width="2.12" stroke-linejoin="round"/>
<path d="M276.83 896.08L279.28 900.43L274.39 900.43Z" fill="none" stroke="#000" stroke-width="2.12" stroke-linejoin="round"/>
<path d="M276.83 914.17L279.28 918.52L274.39 918.52Z" fill="none" stroke="#000" stroke-width="2.12" stroke-linejoin="round"/>
<line x1="110.84" y1="797.34" x2="110.84" y2="916.5" stroke="#000" stroke-width="1.12" stroke-linecap="butt"/>
<line x1="101.82" y1="797.34" x2="119.87" y2="797.34" stroke="#000" stroke-width="1.12" stroke-linecap="butt"/>
<line x1="101.82" y1="916.5" x2="119.87" y2="916.5" stroke="#000" stroke-width="1.12" stroke-linecap="butt"/>
<line x1="166.17" y1="778.69" x2="166.17" y2="857.84" stroke="#000" stroke-width="1.12" stroke-linecap="butt"/>
<line x1="157.15" y1="778.69" x2="175.2" y2="778.69" stroke="#000" stroke-width="1.12" stroke-linecap="butt"/>
<line x1="157.15" y1="857.84" x2="175.2" y2="857.84" stroke="#000" stroke-width="1.12" stroke-linecap="butt"/>
<line x1="221.5" y1="838.63" x2="221.5" y2="903.46" stroke="#000" stroke-width="1.12" stroke-linecap="butt"/>
<line x1="212.48" y1="838.63" x2="230.53" y2="838.63" stroke="#000" stroke-width="1.12" stroke-linecap="butt"/>
<line x1="212.48" y1="903.46" x2="230.53" y2="903.46" stroke="#000" stroke-width="1.12" stroke-linecap="butt"/>
<line x1="276.83" y1="802.62" x2="276.83" y2="907.78" stroke="#000" stroke-width="1.12" stroke-linecap="butt"/>
<line x1="267.81" y1="802.62" x2="285.86" y2="802.62" stroke="#000" stroke-width="1.12" stroke-linecap="butt"/>
<line x1="267.81" y1="907.78" x2="285.86" y2="907.78" stroke="#000" stroke-width="1.12" stroke-linecap="butt"/>
</g>
<g>
<text transform="translate(546.45 742.1) scale(0.955 1.04)" font-size="38" font-weight="bold" text-anchor="start" stroke="#000" stroke-width="0.4">F</text>
<rect x="463.13" y="960.6" width="32.92" height="54.3" fill="#fff" stroke="#000" stroke-width="3.4" stroke-linejoin="round"/>
<rect x="518.46" y="960.6" width="32.92" height="54.3" fill="#a0a0a0" stroke="#000" stroke-width="3.4" stroke-linejoin="round"/>
<rect x="573.79" y="1000.3" width="32.92" height="14.6" fill="#fff" stroke="#000" stroke-width="3.4" stroke-linejoin="round"/>
<rect x="629.12" y="1007.7" width="32.92" height="7.2" fill="#a0a0a0" stroke="#000" stroke-width="3.4" stroke-linejoin="round"/>
<line x1="442.9" y1="773.88" x2="442.9" y2="1016.02" stroke="#000" stroke-width="2.25" stroke-linecap="butt"/>
<line x1="441.77" y1="1014.9" x2="683.7" y2="1014.9" stroke="#000" stroke-width="2.25" stroke-linecap="butt"/>
<line x1="432.7" y1="1014.9" x2="442.9" y2="1014.9" stroke="#000" stroke-width="2.25" stroke-linecap="butt"/>
<text transform="translate(430.58 1021.86) scale(1 1.04)" font-size="18.05" font-weight="bold" text-anchor="end" stroke="#000" stroke-width="0.3">0</text>
<line x1="432.7" y1="934.93" x2="442.9" y2="934.93" stroke="#000" stroke-width="2.25" stroke-linecap="butt"/>
<text transform="translate(430.58 941.9) scale(1 1.04)" font-size="18.05" font-weight="bold" text-anchor="end" stroke="#000" stroke-width="0.3">10</text>
<line x1="432.7" y1="854.97" x2="442.9" y2="854.97" stroke="#000" stroke-width="2.25" stroke-linecap="butt"/>
<text transform="translate(430.58 861.93) scale(1 1.04)" font-size="18.05" font-weight="bold" text-anchor="end" stroke="#000" stroke-width="0.3">20</text>
<line x1="432.7" y1="775" x2="442.9" y2="775" stroke="#000" stroke-width="2.25" stroke-linecap="butt"/>
<text transform="translate(430.58 781.96) scale(1 1.04)" font-size="18.05" font-weight="bold" text-anchor="end" stroke="#000" stroke-width="0.3">30</text>
<line x1="479.59" y1="1014.9" x2="479.59" y2="1024.78" stroke="#000" stroke-width="2.25" stroke-linecap="butt"/>
<text transform="translate(479.59 1043.8) scale(1 1.04)" font-size="18.05" font-weight="bold" text-anchor="middle" stroke="#000" stroke-width="0.3">WKYc</text>
<line x1="534.92" y1="1014.9" x2="534.92" y2="1024.78" stroke="#000" stroke-width="2.25" stroke-linecap="butt"/>
<text transform="translate(534.92 1043.8) scale(1 1.04)" font-size="18.05" font-weight="bold" text-anchor="middle" stroke="#000" stroke-width="0.3">WKYi</text>
<line x1="590.25" y1="1014.9" x2="590.25" y2="1024.78" stroke="#000" stroke-width="2.25" stroke-linecap="butt"/>
<text transform="translate(590.25 1043.8) scale(1 1.04)" font-size="18.05" font-weight="bold" text-anchor="middle" stroke="#000" stroke-width="0.3">SHRc</text>
<line x1="645.58" y1="1014.9" x2="645.58" y2="1024.78" stroke="#000" stroke-width="2.25" stroke-linecap="butt"/>
<text transform="translate(645.58 1043.8) scale(1 1.04)" font-size="18.05" font-weight="bold" text-anchor="middle" stroke="#000" stroke-width="0.3">SHRi</text>
<text transform="translate(397.8 894.8) rotate(-90) scale(1 1.04)" font-size="23" font-weight="bold" text-anchor="middle" stroke="#000" stroke-width="0.3">Stretching</text>
<circle cx="479.59" cy="910.94" r="2.76" fill="#000"/>
<circle cx="479.59" cy="918.94" r="2.76" fill="#000"/>
<circle cx="479.59" cy="934.93" r="2.76" fill="#000"/>
<circle cx="476.74" cy="942.93" r="2.76" fill="#000"/>
<circle cx="482.44" cy="942.93" r="2.76" fill="#000"/>
<circle cx="479.59" cy="950.93" r="2.76" fill="#000"/>
<circle cx="479.59" cy="966.92" r="2.76" fill="#000"/>
<circle cx="476.74" cy="982.91" r="2.76" fill="#000"/>
<circle cx="482.44" cy="982.91" r="2.76" fill="#000"/>
<circle cx="479.59" cy="990.91" r="2.76" fill="#000"/>
<circle cx="479.59" cy="1014.9" r="2.76" fill="#000"/>
<circle cx="534.92" cy="886.95" r="2.28" fill="none" stroke="#000" stroke-width="2.23"/>
<circle cx="534.92" cy="934.93" r="2.28" fill="none" stroke="#000" stroke-width="2.23"/>
<circle cx="522.82" cy="942.93" r="2.28" fill="none" stroke="#000" stroke-width="2.23"/>
<circle cx="534.92" cy="942.93" r="2.28" fill="none" stroke="#000" stroke-width="2.23"/>
<circle cx="547.02" cy="942.93" r="2.28" fill="none" stroke="#000" stroke-width="2.23"/>
<circle cx="534.92" cy="966.92" r="2.28" fill="none" stroke="#000" stroke-width="2.23"/>
<circle cx="528.72" cy="974.92" r="2.28" fill="none" stroke="#000" stroke-width="2.23"/>
<circle cx="541.12" cy="974.92" r="2.28" fill="none" stroke="#000" stroke-width="2.23"/>
<circle cx="522.82" cy="990.91" r="2.28" fill="none" stroke="#000" stroke-width="2.23"/>
<circle cx="534.92" cy="990.91" r="2.28" fill="none" stroke="#000" stroke-width="2.23"/>
<circle cx="547.02" cy="990.91" r="2.28" fill="none" stroke="#000" stroke-width="2.23"/>
<path d="M576.3 988.36L578.9 993.46L573.7 993.46Z" fill="#000"/>
<path d="M585.6 988.36L588.2 993.46L583 993.46Z" fill="#000"/>
<path d="M594.9 988.36L597.5 993.46L592.3 993.46Z" fill="#000"/>
<path d="M604.2 988.36L606.8 993.46L601.6 993.46Z" fill="#000"/>
<path d="M590.25 996.36L592.85 1001.46L587.65 1001.46Z" fill="#000"/>
<path d="M590.25 1004.35L592.85 1009.45L587.65 1009.45Z" fill="#000"/>
<path d="M590.25 1012.35L592.85 1017.45L587.65 1017.45Z" fill="#000"/>
<path d="M645.58 989.13L648.03 993.49L643.14 993.49Z" fill="none" stroke="#000" stroke-width="2.12" stroke-linejoin="round"/>
<path d="M645.58 997.13L648.03 1001.48L643.14 1001.48Z" fill="none" stroke="#000" stroke-width="2.12" stroke-linejoin="round"/>
<path d="M645.58 1005.13L648.03 1009.48L643.14 1009.48Z" fill="none" stroke="#000" stroke-width="2.12" stroke-linejoin="round"/>
<path d="M642.73 1013.12L645.18 1017.48L640.29 1017.48Z" fill="none" stroke="#000" stroke-width="2.12" stroke-linejoin="round"/>
<path d="M648.43 1013.12L650.88 1017.48L645.99 1017.48Z" fill="none" stroke="#000" stroke-width="2.12" stroke-linejoin="round"/>
<line x1="479.59" y1="925.79" x2="479.59" y2="990.91" stroke="#000" stroke-width="1.12" stroke-linecap="butt"/>
<line x1="470.57" y1="925.79" x2="488.62" y2="925.79" stroke="#000" stroke-width="1.12" stroke-linecap="butt"/>
<line x1="470.57" y1="990.91" x2="488.62" y2="990.91" stroke="#000" stroke-width="1.12" stroke-linecap="butt"/>
<line x1="534.92" y1="926.59" x2="534.92" y2="990.43" stroke="#000" stroke-width="1.12" stroke-linecap="butt"/>
<line x1="525.9" y1="926.59" x2="543.95" y2="926.59" stroke="#000" stroke-width="1.12" stroke-linecap="butt"/>
<line x1="525.9" y1="990.43" x2="543.95" y2="990.43" stroke="#000" stroke-width="1.12" stroke-linecap="butt"/>
<line x1="590.25" y1="988.67" x2="590.25" y2="1007.01" stroke="#000" stroke-width="1.12" stroke-linecap="butt"/>
<line x1="581.23" y1="988.67" x2="599.28" y2="988.67" stroke="#000" stroke-width="1.12" stroke-linecap="butt"/>
<line x1="581.23" y1="1007.01" x2="599.28" y2="1007.01" stroke="#000" stroke-width="1.12" stroke-linecap="butt"/>
<line x1="645.58" y1="994.68" x2="645.58" y2="1022.9" stroke="#000" stroke-width="1.12" stroke-linecap="butt"/>
<line x1="636.56" y1="994.68" x2="654.61" y2="994.68" stroke="#000" stroke-width="1.12" stroke-linecap="butt"/>
<line x1="472.9" y1="865.2" x2="553.5" y2="865.2" stroke="#000" stroke-width="2.1" stroke-linecap="butt"/>
<line x1="574.1" y1="944.5" x2="655.2" y2="944.5" stroke="#000" stroke-width="2.1" stroke-linecap="butt"/>
<path d="M513.3 865.2V849.8H622.9V944.5" fill="none" stroke="#000" stroke-width="2.1" stroke-linejoin="miter"/>
<text transform="translate(568.22 850.72)" font-size="22.62" font-weight="normal" text-anchor="middle" stroke="#000" stroke-width="0.45" letter-spacing="2.23">***</text>
</g>
<g>
<text transform="translate(158.9 1099.3) scale(1 1.04)" font-size="38" font-weight="bold" text-anchor="start" stroke="#000" stroke-width="0.4">G</text>
<rect x="91.03" y="1350.9" width="32.92" height="35.5" fill="#fff" stroke="#000" stroke-width="3.4" stroke-linejoin="round"/>
<rect x="146.36" y="1366.3" width="32.92" height="20.1" fill="#a0a0a0" stroke="#000" stroke-width="3.4" stroke-linejoin="round"/>
<rect x="201.69" y="1300.8" width="32.92" height="85.6" fill="#fff" stroke="#000" stroke-width="3.4" stroke-linejoin="round"/>
<rect x="257.02" y="1291.2" width="32.92" height="95.2" fill="#a0a0a0" stroke="#000" stroke-width="3.4" stroke-linejoin="round"/>
<line x1="70.8" y1="1145.58" x2="70.8" y2="1387.53" stroke="#000" stroke-width="2.25" stroke-linecap="butt"/>
<line x1="69.67" y1="1386.4" x2="311.6" y2="1386.4" stroke="#000" stroke-width="2.25" stroke-linecap="butt"/>
<line x1="60.6" y1="1386.4" x2="70.8" y2="1386.4" stroke="#000" stroke-width="2.25" stroke-linecap="butt"/>
<text transform="translate(58.48 1393.36) scale(1 1.04)" font-size="18.05" font-weight="bold" text-anchor="end" stroke="#000" stroke-width="0.3">0</text>
<line x1="60.6" y1="1306.5" x2="70.8" y2="1306.5" stroke="#000" stroke-width="2.25" stroke-linecap="butt"/>
<text transform="translate(58.48 1313.46) scale(1 1.04)" font-size="18.05" font-weight="bold" text-anchor="end" stroke="#000" stroke-width="0.3">10</text>
<line x1="60.6" y1="1226.6" x2="70.8" y2="1226.6" stroke="#000" stroke-width="2.25" stroke-linecap="butt"/>
<text transform="translate(58.48 1233.56) scale(1 1.04)" font-size="18.05" font-weight="bold" text-anchor="end" stroke="#000" stroke-width="0.3">20</text>
<line x1="60.6" y1="1146.7" x2="70.8" y2="1146.7" stroke="#000" stroke-width="2.25" stroke-linecap="butt"/>
<text transform="translate(58.48 1153.66) scale(1 1.04)" font-size="18.05" font-weight="bold" text-anchor="end" stroke="#000" stroke-width="0.3">30</text>
<line x1="107.49" y1="1386.4" x2="107.49" y2="1396.28" stroke="#000" stroke-width="2.25" stroke-linecap="butt"/>
<text transform="translate(107.49 1413.5) scale(1 1.04)" font-size="18.05" font-weight="bold" text-anchor="middle" stroke="#000" stroke-width="0.3">WKYc</text>
<line x1="162.82" y1="1386.4" x2="162.82" y2="1396.28" stroke="#000" stroke-width="2.25" stroke-linecap="butt"/>
<text transform="translate(162.82 1413.5) scale(1 1.04)" font-size="18.05" font-weight="bold" text-anchor="middle" stroke="#000" stroke-width="0.3">WKYi</text>
<line x1="218.15" y1="1386.4" x2="218.15" y2="1396.28" stroke="#000" stroke-width="2.25" stroke-linecap="butt"/>
<text transform="translate(218.15 1413.5) scale(1 1.04)" font-size="18.05" font-weight="bold" text-anchor="middle" stroke="#000" stroke-width="0.3">SHRc</text>
<line x1="273.48" y1="1386.4" x2="273.48" y2="1396.28" stroke="#000" stroke-width="2.25" stroke-linecap="butt"/>
<text transform="translate(273.48 1413.5) scale(1 1.04)" font-size="18.05" font-weight="bold" text-anchor="middle" stroke="#000" stroke-width="0.3">SHRi</text>
<text transform="translate(26.6 1266.1) rotate(-90) scale(1 1.04)" font-size="22.9" font-weight="bold" text-anchor="middle" stroke="#000" stroke-width="0.3">Head-dipping</text>
<circle cx="107.49" cy="1290.52" r="2.76" fill="#000"/>
<circle cx="101.29" cy="1322.48" r="2.76" fill="#000"/>
<circle cx="113.69" cy="1322.48" r="2.76" fill="#000"/>
<circle cx="101.29" cy="1346.45" r="2.76" fill="#000"/>
<circle cx="113.69" cy="1346.45" r="2.76" fill="#000"/>
<circle cx="107.49" cy="1354.44" r="2.76" fill="#000"/>
<circle cx="95.09" cy="1362.43" r="2.76" fill="#000"/>
<circle cx="107.49" cy="1362.43" r="2.76" fill="#000"/>
<circle cx="119.89" cy="1362.43" r="2.76" fill="#000"/>
<circle cx="107.49" cy="1378.41" r="2.76" fill="#000"/>
<circle cx="107.49" cy="1386.4" r="2.76" fill="#000"/>
<circle cx="158.42" cy="1330.47" r="2.28" fill="none" stroke="#000" stroke-width="2.23"/>
<circle cx="167.22" cy="1330.47" r="2.28" fill="none" stroke="#000" stroke-width="2.23"/>
<circle cx="162.82" cy="1338.46" r="2.28" fill="none" stroke="#000" stroke-width="2.23"/>
<circle cx="162.82" cy="1354.44" r="2.28" fill="none" stroke="#000" stroke-width="2.23"/>
<circle cx="158.42" cy="1362.43" r="2.28" fill="none" stroke="#000" stroke-width="2.23"/>
<circle cx="167.22" cy="1362.43" r="2.28" fill="none" stroke="#000" stroke-width="2.23"/>
<circle cx="162.82" cy="1378.41" r="2.28" fill="none" stroke="#000" stroke-width="2.23"/>
<circle cx="149.02" cy="1386.4" r="2.28" fill="none" stroke="#000" stroke-width="2.23"/>
<circle cx="158.22" cy="1386.4" r="2.28" fill="none" stroke="#000" stroke-width="2.23"/>
<circle cx="167.42" cy="1386.4" r="2.28" fill="none" stroke="#000" stroke-width="2.23"/>
<circle cx="176.62" cy="1386.4" r="2.28" fill="none" stroke="#000" stroke-width="2.23"/>
<path d="M218.15 1200.08L220.75 1205.18L215.55 1205.18Z" fill="#000"/>
<path d="M218.15 1279.98L220.75 1285.08L215.55 1285.08Z" fill="#000"/>
<path d="M218.15 1295.96L220.75 1301.06L215.55 1301.06Z" fill="#000"/>
<path d="M218.15 1303.95L220.75 1309.05L215.55 1309.05Z" fill="#000"/>
<path d="M215.05 1311.94L217.65 1317.04L212.45 1317.04Z" fill="#000"/>
<path d="M221.25 1311.94L223.85 1317.04L218.65 1317.04Z" fill="#000"/>
<path d="M218.15 1319.93L220.75 1325.03L215.55 1325.03Z" fill="#000"/>
<path d="M218.15 1343.9L220.75 1349L215.55 1349Z" fill="#000"/>
<path d="M273.48 1160.9L275.93 1165.26L271.04 1165.26Z" fill="none" stroke="#000" stroke-width="2.12" stroke-linejoin="round"/>
<path d="M273.48 1272.76L275.93 1277.12L271.04 1277.12Z" fill="none" stroke="#000" stroke-width="2.12" stroke-linejoin="round"/>
<path d="M273.48 1296.73L275.93 1301.09L271.04 1301.09Z" fill="none" stroke="#000" stroke-width="2.12" stroke-linejoin="round"/>
<path d="M270.38 1352.66L272.83 1357.02L267.94 1357.02Z" fill="none" stroke="#000" stroke-width="2.12" stroke-linejoin="round"/>
<path d="M276.58 1352.66L279.03 1357.02L274.14 1357.02Z" fill="none" stroke="#000" stroke-width="2.12" stroke-linejoin="round"/>
<line x1="107.49" y1="1321.46" x2="107.49" y2="1376.86" stroke="#000" stroke-width="1.12" stroke-linecap="butt"/>
<line x1="98.47" y1="1321.46" x2="116.52" y2="1321.46" stroke="#000" stroke-width="1.12" stroke-linecap="butt"/>
<line x1="98.47" y1="1376.86" x2="116.52" y2="1376.86" stroke="#000" stroke-width="1.12" stroke-linecap="butt"/>
<line x1="162.82" y1="1341.21" x2="162.82" y2="1386.48" stroke="#000" stroke-width="1.12" stroke-linecap="butt"/>
<line x1="153.8" y1="1341.21" x2="171.85" y2="1341.21" stroke="#000" stroke-width="1.12" stroke-linecap="butt"/>
<line x1="218.15" y1="1255.61" x2="218.15" y2="1341.53" stroke="#000" stroke-width="1.12" stroke-linecap="butt"/>
<line x1="209.13" y1="1255.61" x2="227.18" y2="1255.61" stroke="#000" stroke-width="1.12" stroke-linecap="butt"/>
<line x1="209.13" y1="1341.53" x2="227.18" y2="1341.53" stroke="#000" stroke-width="1.12" stroke-linecap="butt"/>
<line x1="273.48" y1="1210.64" x2="273.48" y2="1368.03" stroke="#000" stroke-width="1.12" stroke-linecap="butt"/>
<line x1="264.46" y1="1210.64" x2="282.51" y2="1210.64" stroke="#000" stroke-width="1.12" stroke-linecap="butt"/>
<line x1="264.46" y1="1368.03" x2="282.51" y2="1368.03" stroke="#000" stroke-width="1.12" stroke-linecap="butt"/>
<line x1="95.5" y1="1216" x2="176.7" y2="1216" stroke="#000" stroke-width="2.1" stroke-linecap="butt"/>
<line x1="201.5" y1="1152" x2="283.2" y2="1152" stroke="#000" stroke-width="2.1" stroke-linecap="butt"/>
<path d="M136 1216V1139.6H241.7V1152" fill="none" stroke="#000" stroke-width="2.1" stroke-linejoin="miter"/>
<text transform="translate(188.52 1139.92)" font-size="22.62" font-weight="normal" text-anchor="middle" stroke="#000" stroke-width="0.45" letter-spacing="2.23">***</text>
</g>
</svg>
</body></html>
